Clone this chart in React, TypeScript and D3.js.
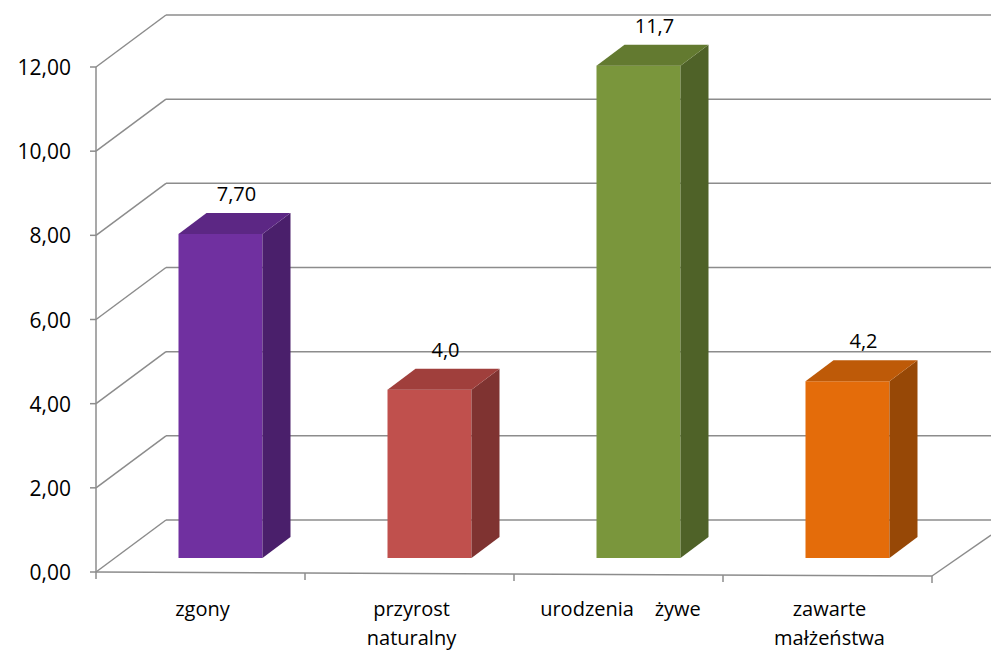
import React from "react";
import * as d3 from "d3";

const categories = [["zgony"], ["przyrost", "naturalny"], ["urodzenia    żywe"], ["zawarte", "małżeństwa"]];
const values = [7.7, 4.0, 11.7, 4.2];
const valueLabels = ["7,70", "4,0", "11,7", "4,2"];
const ticks = [0, 2, 4, 6, 8, 10, 12];
const colors = [
  { front: "#7030A0", side: "#4A1F6B", top: "#5C2784" },
  { front: "#C0504D", side: "#7F3331", top: "#A03F3C" },
  { front: "#7A963C", side: "#4F6228", top: "#637A30" },
  { front: "#E46C0A", side: "#974806", top: "#BE5A08" },
];

export default function App() {
  const W = 991, H = 652;
  const x0 = 96, x1 = 932;
  const y = d3.scaleLinear().domain([0, 12]).range([572, 67]);
  const dx = 70, dy = -52;
  const band = d3.scaleBand().domain(categories.map((_, i) => String(i))).range([x0, x1]);
  const bdx = 28, bdy = -21;
  const baseShiftX = 20, baseShiftY = -14;
  const bw = 84;
  const font = "'Open Sans', 'Liberation Sans', sans-serif";
  const grid = "#8C8C8C";
  return (
    <svg width={W} height={H} style={{ position: "absolute", left: 0, top: 0 }}>
      <rect width={W} height={H} fill="#fff" />
      {ticks.map((t) => (
        <g key={t}>
          <line x1={x0} y1={y(t)} x2={x0 + dx} y2={y(t) + dy} stroke={grid} strokeWidth={1.5} />
          <line x1={x0 + dx} y1={y(t) + dy} x2={t === 0 ? x1 + 59 : W} y2={y(t) + dy} stroke={grid} strokeWidth={1.5} />
          <line x1={x0 - 6} y1={y(t)} x2={x0} y2={y(t)} stroke={grid} strokeWidth={1.5} />
          <text x={71} y={y(t) + 8} textAnchor="end" fontSize={21} fontFamily={font} fill="#000">
            {t.toFixed(2).replace(".", ",")}
          </text>
        </g>
      ))}
      <line x1={x0} y1={y(0)} x2={x0} y2={y(12)} stroke={grid} strokeWidth={1.5} />
      <line x1={x0} y1={y(0)} x2={x1} y2={y(0) + 4} stroke={grid} strokeWidth={1.5} />
      <line x1={x1} y1={y(0) + 4} x2={x1 + 59} y2={y(0) + 4 - 41} stroke={grid} strokeWidth={1.5} />
      {[0, 1, 2, 3, 4].map((i) => {
        const xx = x0 + i * band.step();
        return <line key={i} x1={xx} y1={y(0) + i} x2={xx} y2={y(0) + 7 + i} stroke={grid} strokeWidth={1.5} />;
      })}
      {values.map((v, i) => {
        const bx = (band(String(i)) as number) + band.bandwidth() / 2 + baseShiftX - bw / 2;
        const yb = y(0) + baseShiftY;
        const yt = y(v) + baseShiftY;
        const c = colors[i];
        return (
          <g key={i}>
            <rect x={bx} y={yt} width={bw} height={yb - yt} fill={c.front} />
            <polygon points={`${bx + bw},${yt} ${bx + bw + bdx},${yt + bdy} ${bx + bw + bdx},${yb + bdy} ${bx + bw},${yb}`} fill={c.side} />
            <polygon points={`${bx},${yt} ${bx + bdx},${yt + bdy} ${bx + bw + bdx},${yt + bdy} ${bx + bw},${yt}`} fill={c.top} />
            <text x={bx + bw / 2 + bdx / 2 + 2} y={yt + bdy - 12} textAnchor="middle" fontSize={20} fontFamily={font}>
              {valueLabels[i]}
            </text>
          </g>
        );
      })}
      {categories.map((lines, i) => (
        <text key={i} textAnchor="middle" fontSize={20} fontFamily={font} style={{ whiteSpace: "pre" }}>
          {lines.map((l, j) => (
            <tspan key={j} x={(band(String(i)) as number) + band.bandwidth() / 2 + 2} y={616 + j * 29}>{l}</tspan>
          ))}
        </text>
      ))}
    </svg>
  );
}
